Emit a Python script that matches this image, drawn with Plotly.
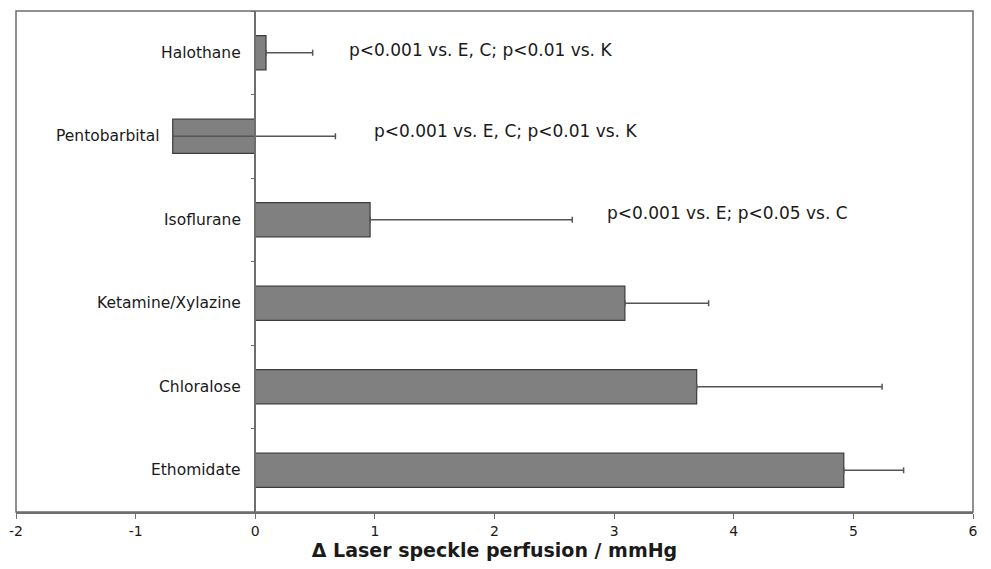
import plotly.graph_objects as go

# Data (bottom to top)
categories = ["Ethomidate", "Chloralose", "Ketamine/Xylazine", "Isoflurane", "Pentobarbital", "Halothane"]
means = [4.92, 3.69, 3.09, 0.96, -0.69, 0.09]
err_plus = [0.50, 1.55, 0.70, 1.69, 1.36, 0.39]
x_ticks = [-2, -1, 0, 1, 2, 3, 4, 5, 6]

# Significance notes
note_cats = ["Halothane", "Pentobarbital", "Isoflurane"]
note_texts = [
    "p<0.001 vs. E, C; p<0.01 vs. K",
    "p<0.001 vs. E, C; p<0.01 vs. K",
    "p<0.001 vs. E; p<0.05 vs. C",
]
note_x = [0.77, 0.98, 2.92]
note_shift = [3, 5, 7]

FONT = "DejaVu Sans, Verdana, sans-serif"
TXT = "#1a1a1a"
AXC = "#6e6e6e"

fig = go.Figure()
fig.add_trace(go.Bar(
    y=categories, x=means, orientation="h",
    marker=dict(color="#808080", line=dict(color="#3c3c3c", width=1.2)),
    error_x=dict(type="data", symmetric=False, array=err_plus,
                 arrayminus=[0] * len(err_plus),
                 color="#555555", thickness=1.5, width=3),
    width=0.41,
    showlegend=False,
))

# category labels placed left of the bar base (left of the negative bar when needed)
for c, m in zip(categories, means):
    fig.add_annotation(x=min(0, m), y=c, text=c, showarrow=False, xanchor="right",
                       xshift=-12, font=dict(family=FONT, size=15.5, color=TXT))

for c, t, xx, s in zip(note_cats, note_texts, note_x, note_shift):
    fig.add_annotation(x=xx, y=c, text=t, showarrow=False, xanchor="left",
                       yshift=s, font=dict(family=FONT, size=17, color=TXT))

# frame around plot area
fig.add_shape(type="rect", xref="paper", yref="paper", x0=0, y0=0, x1=1, y1=1,
              line=dict(color=AXC, width=1.5), layer="above")

# page body has an 8px default margin; size the figure to fit the 991x569 window
fig.update_layout(
    width=975, height=553,
    margin=dict(l=8, r=10, t=3, b=49),
    paper_bgcolor="white", plot_bgcolor="white",
    font=dict(family=FONT, color=TXT),
    xaxis=dict(
        range=[-2, 6], tickmode="array", tickvals=x_ticks,
        ticktext=[str(v) for v in x_ticks], automargin=False,
        ticks="outside", ticklen=5, tickcolor=AXC, tickwidth=1.2,
        showgrid=False, zeroline=False, showline=True, linecolor=AXC, linewidth=1.5,
        tickfont=dict(family=FONT, size=14, color=TXT),
        title=dict(text="Δ Laser speckle perfusion / mmHg",
                   font=dict(family=FONT, size=19, color=TXT, weight="bold"),
                   standoff=4),
    ),
    yaxis=dict(
        type="category", categoryorder="array", categoryarray=categories,
        anchor="free", position=0.25, automargin=False,
        tickson="boundaries", ticks="outside", ticklen=4, tickcolor=AXC, tickwidth=1.2,
        showticklabels=False,
        showgrid=False, zeroline=False, showline=True, linecolor=AXC, linewidth=1.5,
    ),
)

fig.write_html("out.html")
